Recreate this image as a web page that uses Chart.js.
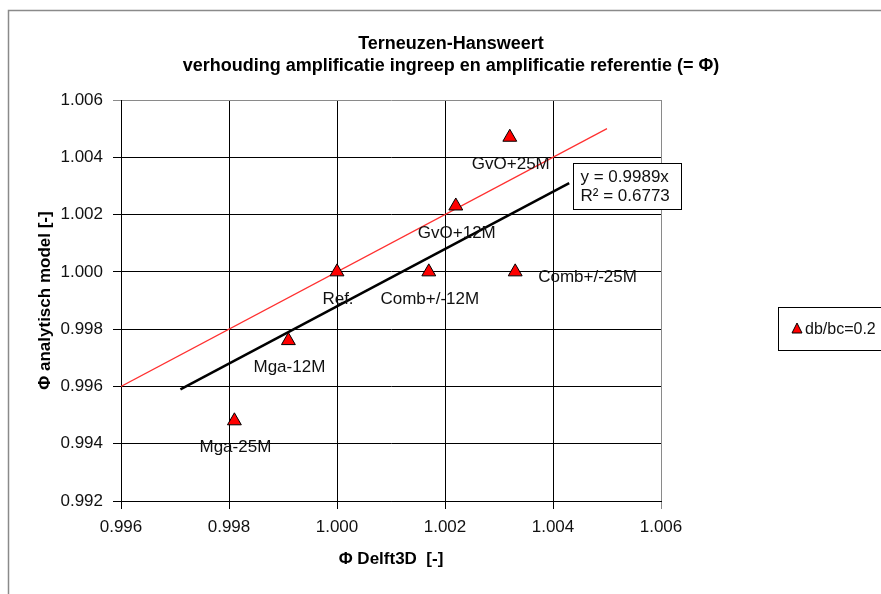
<!DOCTYPE html>
<html>
<head>
<meta charset="utf-8">
<script src="https://cdn.jsdelivr.net/npm/chart.js@4"></script>
<style>
  body { margin: 0; background: #fff; }
  canvas { display: block; }
</style>
</head>
<body>
<canvas id="grafiek" width="881" height="594"></canvas>
<script>
// Gegevens
const namen         = ['Ref.', 'Mga-12M', 'Mga-25M', 'GvO+12M', 'GvO+25M', 'Comb+/-12M', 'Comb+/-25M'];
const phiDelft3D    = [1.0000, 0.9991, 0.9981, 1.0022, 1.0032, 1.0017, 1.0033];
const phiAnalytisch = [1.0000, 0.9976, 0.9948, 1.0023, 1.0047, 1.0000, 1.0000];

// lijn y = x
const referentieX = [0.996, 1.005];
const referentieY = [0.996, 1.005];

// trendlijn (Excel)
const trendX = [0.9971, 1.0043];
const trendY = [0.9959, 1.0031];
const trendTekst = ['y = 0.9989x', 'R\u00B2 = 0.6773'];

const titelRegels = ['Terneuzen-Hansweert', 'verhouding amplificatie ingreep en amplificatie referentie (= \u03A6)'];
const legendaTekst = 'db/bc=0.2';

const xTicks = { min: 0.996, max: 1.006, stap: 0.002 };
const yTicks = { min: 0.992, max: 1.006, stap: 0.002 };

const FONT = "'Liberation Sans', Arial, sans-serif";

function punten(xs, ys){
    return xs.map((x, i) => ({ x: x, y: ys[i] }));
}

// Titel, kader, labels, trendvergelijking en legenda
const tekenExtra = {
    id: 'tekenExtra',
    beforeDraw(chart){
        const ctx = chart.ctx;
        ctx.save();
        ctx.fillStyle = '#fff';
        ctx.fillRect(0, 0, chart.width, chart.height);
        // grijs kader van de grafiek
        ctx.strokeStyle = '#8a8a8a';
        ctx.lineWidth = 1.5;
        ctx.beginPath();
        ctx.moveTo(8.5, chart.height);
        ctx.lineTo(8.5, 10.5);
        ctx.lineTo(chart.width, 10.5);
        ctx.stroke();
        ctx.restore();
    },
    afterDraw(chart){
        const ctx = chart.ctx;
        ctx.save();

        // titel
        ctx.fillStyle = '#000';
        ctx.font = 'bold 18px ' + FONT;
        ctx.textAlign = 'center';
        ctx.textBaseline = 'middle';
        ctx.fillText(titelRegels[0], 451, 44);
        ctx.fillText(titelRegels[1], 451, 66);

        // puntlabels
        ctx.font = '17px ' + FONT;
        ctx.fillStyle = '#111';
        const meta = chart.getDatasetMeta(0);
        meta.data.forEach((el, i) => {
            const naam = namen[i];
            if(naam === 'Comb+/-25M'){
                ctx.textAlign = 'left';
                ctx.fillText(naam, el.x + 23, el.y + 5);
            } else {
                ctx.textAlign = 'center';
                ctx.fillText(naam, el.x + 1, el.y + 27);
            }
        });

        // trendvergelijking naast het einde van de trendlijn
        const eind = chart.getDatasetMeta(2).data[1];
        const bx = Math.round(eind.x) + 4.5, by = Math.round(eind.y) - 19.5;
        ctx.fillStyle = '#fff';
        ctx.fillRect(bx, by, 108, 46);
        ctx.strokeStyle = '#000';
        ctx.lineWidth = 1;
        ctx.strokeRect(bx, by, 108, 46);
        ctx.fillStyle = '#111';
        ctx.textAlign = 'left';
        ctx.font = '17px ' + FONT;
        ctx.fillText(trendTekst[0], bx + 7, by + 14);
        ctx.fillText(trendTekst[1], bx + 7, by + 33);

        // legenda
        ctx.strokeStyle = '#000';
        ctx.lineWidth = 1;
        ctx.strokeRect(778.5, 307.5, 120, 43);
        ctx.fillStyle = '#ff0000';
        ctx.beginPath();
        ctx.moveTo(797, 323);
        ctx.lineTo(802, 333);
        ctx.lineTo(792, 333);
        ctx.closePath();
        ctx.fill();
        ctx.strokeStyle = '#000';
        ctx.stroke();
        ctx.fillStyle = '#111';
        ctx.font = '16px ' + FONT;
        ctx.textAlign = 'left';
        ctx.fillText(legendaTekst, 805, 330);

        ctx.restore();
    }
};

function rasterKleur(c){
    return (c.index === c.scale.ticks.length - 1) ? '#8a8a8a' : '#000';
}

new Chart(document.getElementById('grafiek'), {
    type: 'scatter',
    data: {
        datasets: [{
            label: legendaTekst,
            data: punten(phiDelft3D, phiAnalytisch),
            pointStyle: 'triangle',
            pointRadius: 8,
            backgroundColor: '#ff0000',
            borderColor: '#000',
            borderWidth: 1
        }, {
            label: 'y = x',
            data: punten(referentieX, referentieY),
            showLine: true,
            borderColor: '#ff3030',
            borderWidth: 1.2,
            pointRadius: 0
        }, {
            label: 'trend',
            data: punten(trendX, trendY),
            showLine: true,
            borderColor: '#000',
            borderWidth: 2.5,
            pointRadius: 0
        }]
    },
    options: {
        responsive: false,
        animation: false,
        layout: { padding: { top: 100, right: 220, bottom: 0, left: 0 } },
        plugins: {
            legend:  { display: false },
            tooltip: { enabled: false }
        },
        scales: {
            x: {
                type: 'linear',
                min: xTicks.min,
                max: xTicks.max,
                afterFit: s => { s.height = 93; },
                ticks: {
                    stepSize: xTicks.stap,
                    callback: v => v.toFixed(3),
                    font: { family: FONT, size: 17 },
                    color: '#111',
                    padding: 8
                },
                grid: { color: rasterKleur, lineWidth: 1, tickLength: 8 },
                border: { color: '#000', width: 1 },
                title: {
                    display: true,
                    text: '\u03A6 Delft3D  [-]',
                    font: { family: FONT, size: 17, weight: 'bold' },
                    color: '#000',
                    padding: { top: 0, bottom: 24 }
                }
            },
            y: {
                type: 'linear',
                min: yTicks.min,
                max: yTicks.max,
                afterFit: s => { s.width = 121; },
                ticks: {
                    stepSize: yTicks.stap,
                    callback: v => v.toFixed(3),
                    font: { family: FONT, size: 17 },
                    color: '#111',
                    padding: 10
                },
                grid: { color: rasterKleur, lineWidth: 1, tickLength: 8 },
                border: { color: '#000', width: 1 },
                title: {
                    display: true,
                    text: '\u03A6 analytisch model [-]',
                    font: { family: FONT, size: 17, weight: 'bold' },
                    color: '#000',
                    padding: { top: 35, bottom: 0 }
                }
            }
        }
    },
    plugins: [tekenExtra]
});
</script>
</body>
</html>
